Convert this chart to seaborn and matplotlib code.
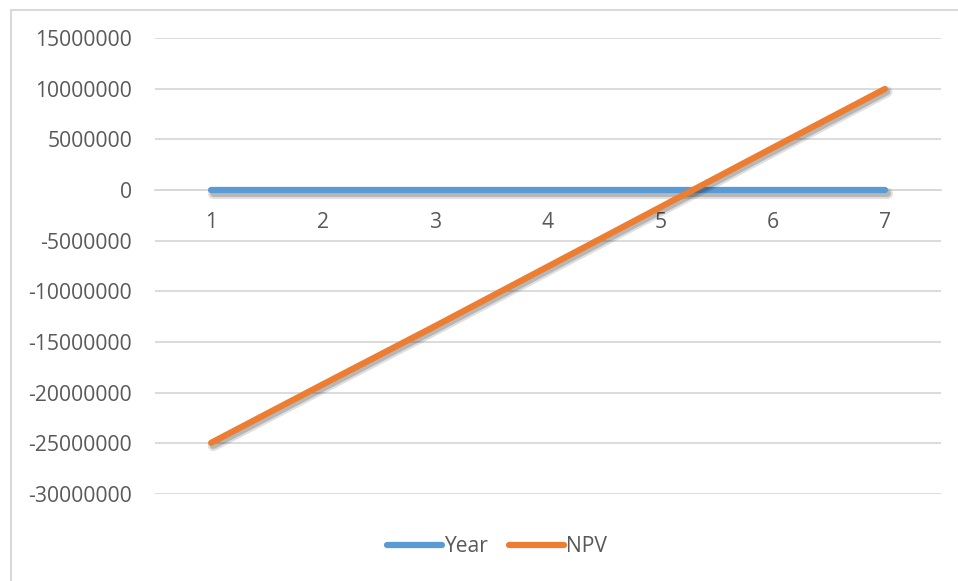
import matplotlib
matplotlib.use("Agg")
import matplotlib.pyplot as plt
import matplotlib.patheffects as pe
from matplotlib.patches import Rectangle
import seaborn as sns
import pandas as pd

years = [1, 2, 3, 4, 5, 6, 7]
year_series = [1, 2, 3, 4, 5, 6, 7]
npv = [-24950000, -19150000, -13400000, -7550000, -1700000, 4150000, 9970000]
y_ticks = [15000000, 10000000, 5000000, 0, -5000000, -10000000,
           -15000000, -20000000, -25000000, -30000000]

sns.set_theme(style="white")
plt.rcParams["font.family"] = ["Open Sans", "DejaVu Sans"]

text_color = "#595959"
grid_color = "#D9D9D9"
blue = "#5B9BD5"
orange = "#ED7D31"

df = pd.DataFrame({
    "x": years * 2,
    "value": year_series + npv,
    "series": ["Year"] * len(years) + ["NPV"] * len(years),
})

fig = plt.figure(figsize=(9.58, 5.81), dpi=100)
fig.patch.set_facecolor("white")
# chart-area frame
fig.add_artist(Rectangle((11 / 958, -0.05), 1.2, 1 - 10 / 581 + 0.05,
                         transform=fig.transFigure, fill=False,
                         edgecolor="#D9D9D9", linewidth=1.5))

ax = fig.add_axes([155 / 958, 1 - 494 / 581, (941 - 155) / 958, (494 - 38) / 581])

for yv in y_ticks:
    ax.axhline(yv, color=grid_color, linewidth=1.3, zorder=0)

# soft drop shadow under each series
shadow = [pe.SimpleLineShadow(offset=(1.5, -2.0), shadow_color="black",
                              alpha=0.12, linewidth=8),
          pe.SimpleLineShadow(offset=(1.5, -2.0), shadow_color="black",
                              alpha=0.18, linewidth=5),
          pe.Normal()]

sns.lineplot(data=df, x="x", y="value", hue="series",
             palette={"Year": blue, "NPV": orange}, linewidth=4.5,
             ax=ax, legend=False, zorder=3)
for line in ax.get_lines()[-2:]:
    line.set_solid_capstyle("round")
    line.set_path_effects(shadow)

ax.set_xlim(0.5, 7.5)
ax.set_ylim(-30000000, 15000000)
ax.set_yticks(y_ticks)
ax.set_yticklabels([str(v) for v in y_ticks])
ax.set_xticks(years)
ax.set_xticklabels([str(v) for v in years])
ax.set_xlabel("")
ax.set_ylabel("")

for side in ["top", "right", "left"]:
    ax.spines[side].set_visible(False)
ax.spines["bottom"].set_position(("data", 0))
ax.spines["bottom"].set_color(grid_color)
ax.spines["bottom"].set_linewidth(1.3)
ax.spines["bottom"].set_zorder(0)

ax.tick_params(axis="y", length=0, pad=16.5, labelsize=15.2, labelcolor=text_color)
ax.tick_params(axis="x", length=0, pad=15.5, labelsize=15.2, labelcolor=text_color)

handles = [plt.Line2D([], [], color=blue, linewidth=4.5, solid_capstyle="round"),
           plt.Line2D([], [], color=orange, linewidth=4.5, solid_capstyle="round")]
leg = fig.legend(handles, ["Year", "NPV"], loc="center",
                 bbox_to_anchor=(497 / 958, 1 - 547 / 581), ncol=2,
                 frameon=False, fontsize=15.2, handlelength=2.6,
                 handletextpad=0.1, columnspacing=1.0)
for t in leg.get_texts():
    t.set_color(text_color)

fig.savefig("out.png", dpi=100, facecolor="white")
